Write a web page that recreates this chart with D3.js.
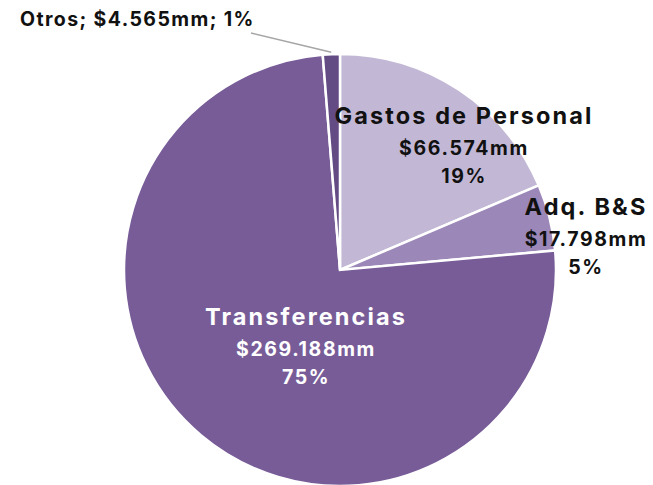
<!DOCTYPE html>
<html>
  <head>
    <meta charset="utf-8">
    <title>Gasto por tipo</title>
    <script src="https://d3js.org/d3.v7.min.js"></script>
    <style>
      body { margin: 0; background: #fff; }
      text { font-family: Inter, "Liberation Sans", sans-serif; font-weight: 700; }
    </style>
  </head>
  <body>
    <div id="chart"></div>
    <script>
      const categories = ["Gastos de Personal", "Adq. B&S", "Transferencias", "Otros"];
      const amounts = [66.574, 17.798, 269.188, 4.565];
      const amountLabels = ["$66.574mm", "$17.798mm", "$269.188mm", "$4.565mm"];
      const pctLabels = ["19%", "5%", "75%", "1%"];
      const colors = ["#c2b8d5", "#9b87b8", "#775c98", "#634b84"];

      const width = 653, height = 485;
      const cx = 340, cy = 270, radius = 216;

      const svg = d3.select("#chart")
        .append("svg")
        .attr("width", width)
        .attr("height", height);

      const pie = d3.pie().sort(null).value(d => d);
      const arc = d3.arc().innerRadius(0).outerRadius(radius);
      const arcs = pie(amounts);

      const g = svg.append("g").attr("transform", `translate(${cx},${cy})`);

      g.selectAll("path")
        .data(arcs)
        .join("path")
        .attr("d", arc)
        .attr("fill", (d, i) => colors[i])
        .attr("stroke", "#fff")
        .attr("stroke-width", 2.5)
        .attr("stroke-linejoin", "miter");

      // label anchors relative to centre (Excel-style manual placement)
      const labelPos = [[124, -146], [246, -55], [-34, 55]];
      const labelFill = ["#111", "#111", "#fff"];

      arcs.slice(0, 3).forEach((a, i) => {
        const t = g.append("text")
          .attr("text-anchor", "middle")
          .attr("fill", labelFill[i]);
        t.append("tspan").attr("x", labelPos[i][0]).attr("y", labelPos[i][1])
          .attr("font-size", 23.5).attr("letter-spacing", 2.1).text(categories[i]);
        t.append("tspan").attr("x", labelPos[i][0]).attr("dy", 31)
          .attr("font-size", 19.5).attr("letter-spacing", 1.6).text(amountLabels[i]);
        t.append("tspan").attr("x", labelPos[i][0]).attr("dy", 27.5)
          .attr("font-size", 19.5).attr("letter-spacing", 1.6).text(pctLabels[i]);
      });

      // Otros: outside label with leader line
      const otros = arcs[3];
      const mid = (otros.startAngle + otros.endAngle) / 2;
      const edge = [Math.sin(mid) * (radius + 2), -Math.cos(mid) * (radius + 2)];
      g.append("polyline")
        .attr("points", [[-89, -237], edge].map(p => p.join(",")).join(" "))
        .attr("fill", "none")
        .attr("stroke", "#a6a6a6")
        .attr("stroke-width", 1.5);

      g.append("text")
        .attr("x", -320)
        .attr("y", -244)
        .attr("font-size", 19.5)
        .attr("letter-spacing", 1.4)
        .attr("fill", "#111")
        .text(`${categories[3]}; ${amountLabels[3]}; ${pctLabels[3]}`);
    </script>
  </body>
</html>
